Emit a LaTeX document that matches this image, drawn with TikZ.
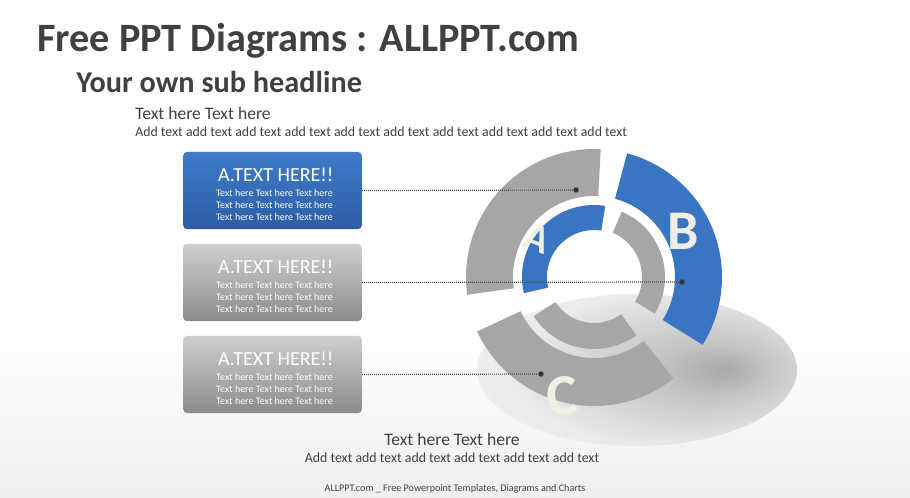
\documentclass[tikz,border=0pt]{standalone}
\usepackage{fontspec}
\setmainfont{Carlito}

\definecolor{titlegray}{HTML}{404040}
\definecolor{ringgray}{HTML}{A6A6A6}
\definecolor{ringblue}{HTML}{3A75C3}
\definecolor{boxbluetop}{HTML}{3F7CCB}
\definecolor{boxbluebot}{HTML}{2D5DA5}
\definecolor{boxgraytop}{HTML}{CFCFCF}
\definecolor{boxgraybot}{HTML}{8B8B8B}
\definecolor{lettercream}{HTML}{F1EFE3}
\definecolor{bgtop}{HTML}{D9D9D9}
\definecolor{bgbot}{HTML}{DEDEDE}

\pgfdeclareverticalshading{slidebg}{100bp}{color(0bp)=(bgbot); color(22bp)=(bgbot!55!white); color(42bp)=(white); color(76bp)=(white); color(100bp)=(bgtop)}
\pgfdeclareradialshading{plate}{\pgfpoint{14bp}{0bp}}{color(0bp)=(black!34); color(8bp)=(black!24); color(26bp)=(black!8); color(42bp)=(black!3); color(50bp)=(black!1)}

% one piece of a ring: colour, start, end, inner and outer radius
\newcommand\ringpart[5]{%
  \fill[#1] (#2:#5) arc[start angle=#2, end angle=#3, radius=#5]
    -- (#3:#4) arc[start angle=#3, end angle=#2, radius=#4] -- cycle;}

\newcommand\boxbody{Text here Text here Text here\\Text here Text here Text here\\Text here Text here Text here}

\tikzset{
  infobox/.style={rounded corners=3pt, minimum width=134pt, minimum height=58pt, inner sep=0pt},
  bluebox/.style={infobox, top color=boxbluetop, bottom color=boxbluebot},
  graybox/.style={infobox, top color=boxgraytop, bottom color=boxgraybot},
  boxhead/.style={text=white, inner sep=0pt, font=\fontsize{15}{16}\selectfont},
  boxtext/.style={text=white, align=center, inner sep=0pt, font=\fontsize{7.5}{9}\selectfont},
  leader/.style={line width=0.9pt, dash pattern=on 0.7pt off 0.8pt, black!70},
  dotmark/.style={circle, fill=black!80, inner sep=0pt, minimum size=4pt},
  letter/.style={text=lettercream, font=\bfseries\fontsize{#1}{#1}\selectfont},
  plain/.style={text=titlegray, anchor=base west, inner sep=0pt},
  centred/.style={text=titlegray, anchor=base, inner sep=0pt},
}

\begin{document}
\begin{tikzpicture}[x=0.75pt, y=-0.75pt]
  \useasboundingbox (0,0) rectangle (910,498);
  \shade[shading=slidebg] (0,0) rectangle (910,498);

  % shadow under the ring
  \shade[shading=plate] (637,370) ellipse [x radius=160, y radius=76];

  % ring
  \begin{scope}[shift={(594,277)}, yscale=-1]
    \ringpart{ringgray}{87}{188}{81}{128}
    \ringpart{ringblue}{-32}{75}{81}{128}
    \ringpart{ringgray}{205}{308}{81}{129}
    \ringpart{ringblue}{81}{193}{47}{72}
    \ringpart{ringgray}{-31}{67}{48}{71}
    \ringpart{ringgray}{213}{306}{46}{72}
  \end{scope}
  \node[letter=30, rotate=-20] (labA) at (537,238) {A};
  \node[letter=42] (labB) at (683,231) {B};
  \node[letter=44, rotate=5] (labC) at (562,396) {C};

  % titles
  \node[plain, font=\bfseries\fontsize{30.2}{36}\selectfont] (title) at (37,52) {Free PPT Diagrams : ALLPPT.com};
  \node[plain, font=\bfseries\fontsize{22.7}{26}\selectfont] (subtitle) at (76,93) {Your own sub headline};
  \node[plain, font=\fontsize{13.2}{15}\selectfont] (toptext) at (135,120) {Text here Text here};
  \node[plain, font=\fontsize{10.4}{12}\selectfont] (topadd) at (135,137) {Add text add text add text add text add text add text add text add text add text add text};

  % boxes
  \node[bluebox] (boxA) at (272.5,190.5) {};
  \node[graybox] (boxB) at (272.5,282.5) {};
  \node[graybox] (boxC) at (272.5,374.5) {};
  \foreach \b in {boxA,boxB,boxC}{
    \node[boxhead] at ([xshift=2.5pt, yshift=11.5pt]\b.center) {A.TEXT HERE!!};
    \node[boxtext] at ([xshift=1.5pt, yshift=-11pt]\b.center) {\boxbody};
  }

  % leaders
  \node[dotmark] (dotA) at (576,190) {};
  \node[dotmark] (dotB) at (682,282) {};
  \node[dotmark] (dotC) at (541,374) {};
  \draw[leader] (boxA.east) -- (dotA);
  \draw[leader] (boxB.east) -- (dotB);
  \draw[leader] (boxC.east) -- (dotC);

  % bottom texts
  \node[centred, font=\fontsize{13.2}{15}\selectfont] (bottext) at (452,446) {Text here Text here};
  \node[centred, font=\fontsize{10.4}{12}\selectfont] (botadd) at (452,463) {Add text add text add text add text add text add text};
  \node[centred, font=\fontsize{7.6}{9}\selectfont] (footer) at (455,492) {ALLPPT.com \_ Free Powerpoint Templates, Diagrams and Charts};
\end{tikzpicture}
\end{document}
